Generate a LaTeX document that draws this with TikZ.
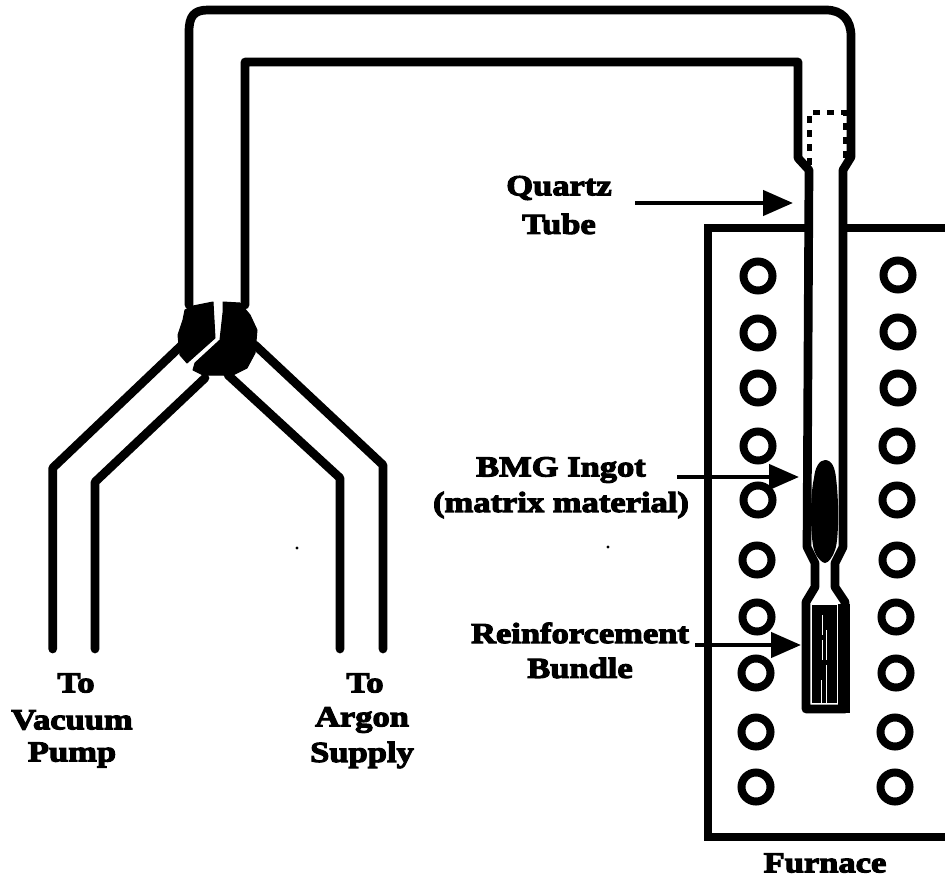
\documentclass[tikz,border=0pt]{standalone}
\usepackage{fontspec}
\setmainfont[FakeStretch=1.19,BoldFeatures={FakeBold=4}]{Liberation Serif}
\usetikzlibrary{arrows.meta}
\tikzset{
  wall/.style={line width=8.7pt,line join=round,line cap=round},
  blob/.style={fill=black,draw=black,line width=1pt,line join=round},
  coil/.style={draw=black,line width=8pt,fill=white,circle,minimum size=29pt,inner sep=0pt},
  label/.style={font=\bfseries\fontsize{29}{29}\selectfont,inner sep=0pt,anchor=center},
  pointer/.style={line width=4.5pt,-{Triangle[length=30pt,width=25pt]}},
  dashwall/.style={line width=5pt,dash pattern=on 7pt off 7pt},
}
\begin{document}
\begin{tikzpicture}[x=1pt,y=-1pt]
\useasboundingbox (0,0) rectangle (945,880);
\clip (0,0) rectangle (945,880);
\fill[white] (0,0) rectangle (945,880);
% furnace
\draw[line width=8pt,line join=miter] (950,228) -- (708,228) -- (708,837) -- (950,837);
% coils
\foreach \n/\x/\y in {a/758/276,b/758/333,c/758/388,d/758/446,e/758/500,f/757/560,g/757/617,h/756/673,i/756/732,j/756/787,
  k/898/275,l/898/332,m/898/388,n/897/446,o/897/500,p/897/560,q/896/617,r/896/673,s/895/732,t/895/787}
  \node[coil] (coil\n) at (\x,\y) {};
% transfer tube and quartz tube
\fill[white] (808,172) rectangle (842,705);
\draw[wall] (189,305) -- (189,32) .. controls (189,16) and (194,10) .. (208,10)
  -- (826,10) .. controls (842,10) and (851,20) .. (851,36)
  -- (851,157) -- (843,170)
  -- (843,547) -- (835,563) -- (835,587) -- (845,602) -- (845,709)
  -- (806,709) -- (806,602) -- (815,587) -- (815,563) -- (807,547)
  -- (809,170) -- (798,158) -- (798,62) -- (245,62) -- (245,305);
\fill (838,604) rectangle (850,713);
% inner socket (dashed)
\draw[dashwall] (809,165) -- (809,113) -- (845,113) -- (845,165);
% ingot
\fill (825,460) .. controls (832,460) and (835,468) .. (836,478)
  .. controls (839,500) and (839,540) .. (835,550)
  .. controls (833,557) and (828,563) .. (825,563)
  .. controls (822,563) and (816,557) .. (814,550)
  .. controls (810,535) and (810,495) .. (814,478)
  .. controls (815,468) and (819,460) .. (825,460) -- cycle;
% bundle
\fill (812,605) rectangle (837,703);
\foreach \x/\a/\b in {822/615/635,826/630/660,822/640/660,826/665/703,821/680/703}
  \draw[white,line width=0.9pt] (\x,\a) -- (\x,\b);
% branch lines
\draw[wall] (52.7,649) -- (52.7,468) -- (185,342);
\draw[wall] (95,649) -- (95,482) -- (205,378);
\draw[wall] (383,649) -- (383,465) -- (255,345);
\draw[wall] (340,649) -- (340,478) -- (228,375);
% joint
\fill[blob] (193,306) -- (213,302) -- (215,338) -- (187,363) -- (180,355) -- (178,335) -- (183,320) -- (185,310) -- cycle;
\fill[blob] (223,302) -- (240,303) -- (250,315) -- (257,330) -- (255,353) -- (247,368) -- (233,375) -- (203,375) -- (193,370) -- (195,363) -- (220,340) -- (223,313) -- cycle;
% specks
\fill (297,548) circle (1.6pt);
\fill (608,547) circle (1.6pt);
% arrows
\coordinate (qa) at (635,203); \coordinate (qb) at (793,203);
\coordinate (ba) at (677,477); \coordinate (bb) at (799,477);
\coordinate (ra) at (695,645); \coordinate (rb) at (801,645);
\draw[pointer] (qa) -- (qb);
\draw[pointer] (ba) -- (bb);
\draw[pointer] (ra) -- (rb);
% labels
\node[label] (t1) at (559,188) {Quartz};
\node[label] (t2) at (559,224) {Tube};
\node[label] (t3) at (561,470) {BMG Ingot};
\node[label] (t4) at (561,505) {(matrix material)};
\node[label] (t5) at (580,633) {Reinforcement};
\node[label] (t6) at (580,668) {Bundle};
\node[label] (t7) at (76,683) {To};
\node[label] (t8) at (72,720) {Vacuum};
\node[label] (t9) at (72,755) {Pump};
\node[label] (t10) at (365,683) {To};
\node[label] (t11) at (362,720) {Argon};
\node[label] (t12) at (362,755) {Supply};
\node[label] (t13) at (825,863) {Furnace};
\end{tikzpicture}
\end{document}
